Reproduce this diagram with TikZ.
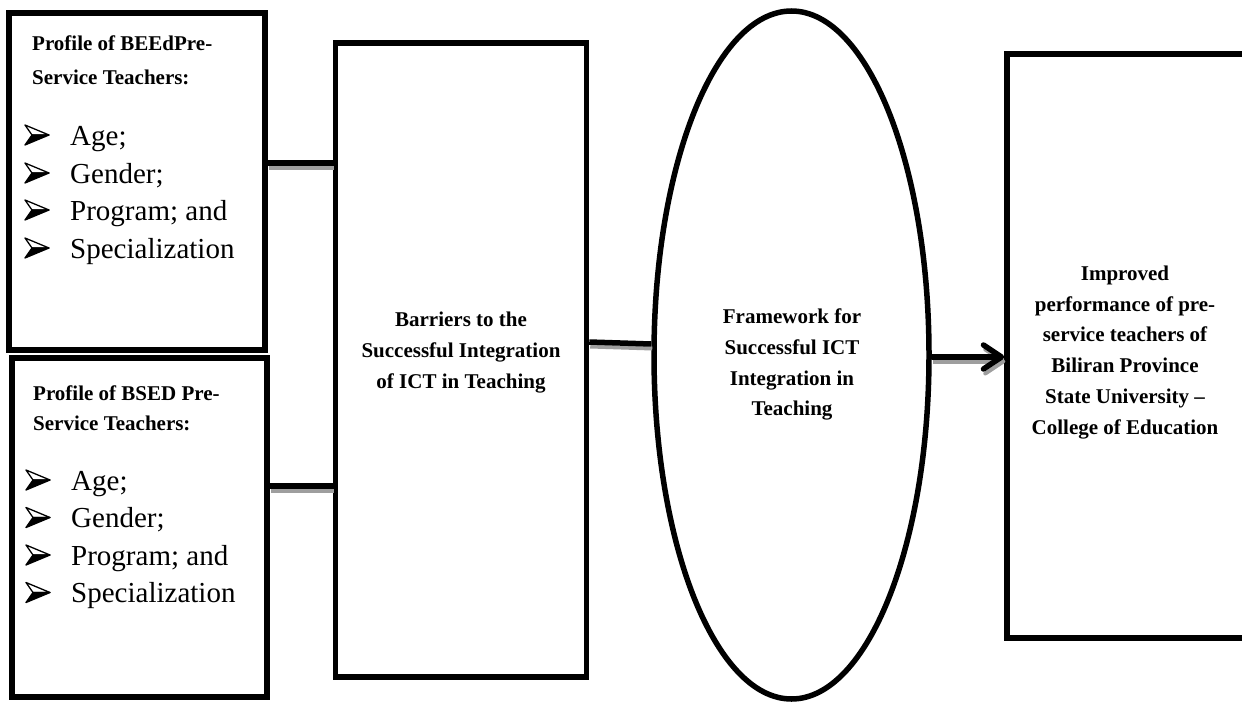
\documentclass[tikz,border=0pt]{standalone}
\usepackage{fontspec}
\setmainfont{Liberation Serif}
\usetikzlibrary{arrows.meta,shapes.geometric}
\newcommand{\hdr}{\fontsize{21}{25}\selectfont\bfseries}
\newcommand{\itm}{\fontsize{29}{33}\selectfont}
\tikzset{
  frame/.style={draw=black, line width=5.5pt, rectangle, inner sep=0pt},
  oval/.style={draw=black, line width=5.5pt, ellipse, inner sep=0pt},
  txt/.style={inner sep=0pt, anchor=base west},
  ctxt/.style={inner sep=0pt, anchor=base, font=\hdr},
  conn/.style={draw=black, line width=5.5pt},
  connshadow/.style={draw=black!38, line width=4pt, transform canvas={xshift=1pt, yshift=-4.5pt}},
  tip/.style={-{Straight Barb[length=18pt, width=24pt, round]}},
  arrb/.pic={
    \filldraw[fill=white, draw=black, line width=1.3pt, line join=round] (0,-10) -- (24,0) -- (7,0) -- cycle;
    \filldraw[fill=black, draw=black, line width=1.3pt, line join=round] (0,10) -- (24,0) -- (7,0) -- cycle;
  }
}
\begin{document}
\begin{tikzpicture}[x=1pt, y=-1pt]
\useasboundingbox (0,0) rectangle (1242,704);
\clip (0,0) rectangle (1242,704);
\fill[white] (0,0) rectangle (1242,704);

% boxes
\node[frame, minimum width=256pt, minimum height=337pt] (b1) at (137,181.5) {};
\node[frame, minimum width=255pt, minimum height=339pt] (b2) at (139.5,527.5) {};
\node[frame, minimum width=251pt, minimum height=634pt] (b3) at (461,360) {};
\node[oval, minimum width=275pt, minimum height=688pt] (fw) at (791.5,355) {};
\node[frame, minimum width=273pt, minimum height=584pt] (b4) at (1143.5,346) {};

% box 1 text
\node[txt, font=\hdr] (h1a) at (32,50) {Profile of BEEdPre-};
\node[txt, font=\hdr] (h1b) at (32,84) {Service Teachers:};
\pic at (25,135) {arrb};
\node[txt, font=\itm] (i1a) at (70,145) {Age;};
\pic at (25,173) {arrb};
\node[txt, font=\itm] (i1b) at (70,183) {Gender;};
\pic at (25,210) {arrb};
\node[txt, font=\itm] (i1c) at (70,220) {Program; and};
\pic at (25,248) {arrb};
\node[txt, font=\itm] (i1d) at (70,258) {Specialization};

% box 2 text
\node[txt, font=\hdr] (h2a) at (33,400) {Profile of BSED Pre-};
\node[txt, font=\hdr] (h2b) at (33,430) {Service Teachers:};
\pic at (26,480) {arrb};
\node[txt, font=\itm] (i2a) at (71,490) {Age;};
\pic at (26,517.5) {arrb};
\node[txt, font=\itm] (i2b) at (71,527.5) {Gender;};
\pic at (26,555) {arrb};
\node[txt, font=\itm] (i2c) at (71,565) {Program; and};
\pic at (26,592.5) {arrb};
\node[txt, font=\itm] (i2d) at (71,602.5) {Specialization};

% box 3 text
\node[ctxt] (t3a) at (461,326) {Barriers to the};
\node[ctxt] (t3b) at (461,357) {Successful Integration};
\node[ctxt] (t3c) at (461,388) {of ICT in Teaching};

% ellipse text
\node[ctxt] (t4a) at (792,323) {Framework for};
\node[ctxt] (t4b) at (792,354) {Successful ICT};
\node[ctxt] (t4c) at (792,385) {Integration in};
\node[ctxt] (t4d) at (792,415) {Teaching};

% box 4 text
\node[ctxt] (t5a) at (1125,280) {Improved};
\node[ctxt] (t5b) at (1125,311) {performance of pre-};
\node[ctxt] (t5c) at (1125,341) {service teachers of};
\node[ctxt] (t5d) at (1125,372) {Biliran Province};
\node[ctxt] (t5e) at (1125,403) {State University –};
\node[ctxt] (t5f) at (1125,434) {College of Education};

% connectors: shadows
\draw[connshadow] (b1.east |- 0,163) -- (b3.west |- 0,163);
\draw[connshadow] (b2.east |- 0,486) -- (b3.west |- 0,486);
\draw[connshadow] (b3.east |- 0,342) -- (fw.west |- 0,344);
\draw[connshadow, tip] (fw.east |- 0,357) -- (b4.west |- 0,357);
% connectors
\draw[conn] (b1.east |- 0,163) -- (b3.west |- 0,163);
\draw[conn] (b2.east |- 0,486) -- (b3.west |- 0,486);
\draw[conn] (b3.east |- 0,342) -- (fw.west |- 0,344);
\draw[conn, tip] (fw.east |- 0,357) -- (b4.west |- 0,357);
\end{tikzpicture}
\end{document}
